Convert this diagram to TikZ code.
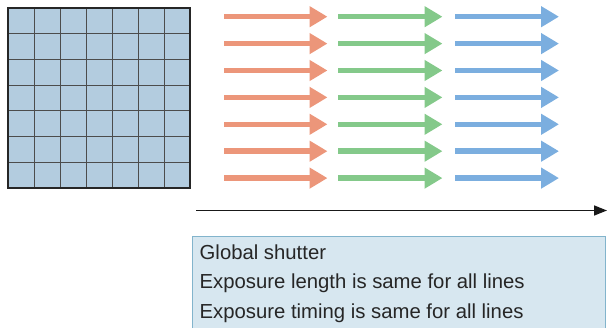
\documentclass[tikz,border=0pt]{standalone}
\usepackage{fontspec}
\setmainfont{Liberation Sans}
\usetikzlibrary{arrows.meta}

\definecolor{cellblue}{HTML}{B3CCDF}
\definecolor{lineorange}{HTML}{EC967A}
\definecolor{linegreen}{HTML}{84C98A}
\definecolor{lineblue}{HTML}{7BAEDF}
\definecolor{notefill}{HTML}{D7E7F0}
\definecolor{noteedge}{HTML}{82B4CC}

\tikzset{
  linearrow/.style={line width=5.5pt,-{Triangle[length=18pt,width=20pt]}},
  notetext/.style={anchor=base west,inner sep=0pt,text=black!85,
    font=\fontsize{20.3}{24}\selectfont},
}

\begin{document}
\begin{tikzpicture}[x=1pt,y=-1pt]
\useasboundingbox (0,0) rectangle (608,328);

% sensor with 7x7 pixels
\fill[cellblue] (8,8) rectangle (190,188);
\foreach \i in {1,...,6} {
  \draw[black!70,line width=1pt] (8+\i*26,8) -- (8+\i*26,188);
  \draw[black!70,line width=1pt] (8,8+\i*180/7) -- (190,8+\i*180/7);
}
\draw[black!85,line width=2.5pt] (8,8) rectangle (190,188);

% exposure of every line
\foreach \k in {0,...,6} {
  \draw[linearrow,lineorange] (224,16.7+\k*26.9) -- (327.5,16.7+\k*26.9);
  \draw[linearrow,linegreen] (338,16.7+\k*26.9) -- (442.5,16.7+\k*26.9);
  \draw[linearrow,lineblue] (455,16.7+\k*26.9) -- (559,16.7+\k*26.9);
}

% time axis
\coordinate (t0) at (196,210.5);
\coordinate (t1) at (607,210.5);
\draw[line width=1.5pt,black!90,-{Triangle[length=13pt,width=10pt]}] (t0) -- (t1);

% note
\draw[fill=notefill,draw=noteedge,line width=1pt] (192.5,237) rectangle (605,340);
\node[notetext] (mode) at (199.5,259.5) {Global shutter};
\node[notetext] (length) at (199.5,289) {Exposure length is same for all lines};
\node[notetext] (timing) at (199.5,318.5) {Exposure timing is same for all lines};
\end{tikzpicture}
\end{document}
